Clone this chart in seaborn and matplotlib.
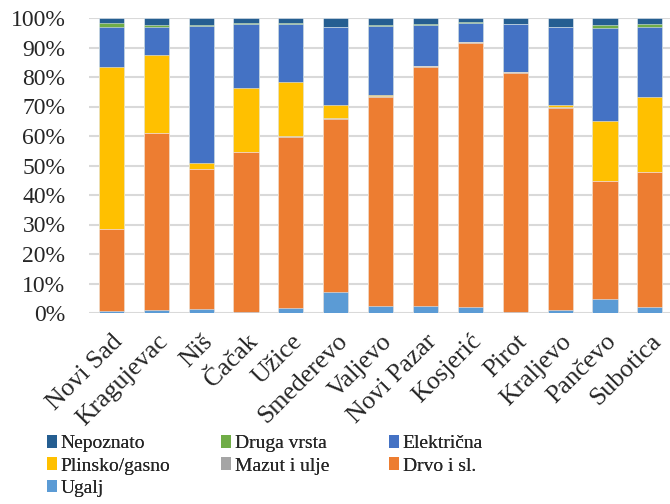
import numpy as np
import pandas as pd
import matplotlib
matplotlib.use("Agg")
import matplotlib.pyplot as plt
import matplotlib.transforms as mtransforms
import seaborn as sns
from matplotlib.patches import Patch

cities = ["Novi Sad", "Kragujevac", "Niš", "Čačak", "Užice", "Smederevo", "Valjevo",
          "Novi Pazar", "Kosjerić", "Pirot", "Kraljevo", "Pančevo", "Subotica"]

# shares in percent, stacked from bottom to top
ugalj       = [0.6, 0.9, 1.2, 0.4, 1.6, 7.1, 2.4, 2.4, 1.9, 0.2, 0.9, 4.6, 2.1]
drvo        = [27.8, 60.0, 47.5, 54.1, 58.2, 58.7, 70.9, 81.1, 89.7, 81.3, 68.7, 40.2, 45.6]
mazut       = [0.1, 0.1, 0.2, 0.1, 0.2, 0.2, 0.3, 0.2, 0.1, 0.3, 0.2, 0.1, 0.2]
plinsko     = [55.0, 26.5, 2.0, 21.6, 18.2, 4.5, 0.3, 0.1, 0.3, 0.0, 0.7, 20.2, 25.4]
elektricna  = [13.6, 9.3, 46.4, 21.8, 19.8, 26.3, 23.4, 13.8, 6.4, 16.1, 26.3, 31.4, 23.8]
druga       = [1.1, 0.8, 0.3, 0.2, 0.2, 0.2, 0.2, 0.2, 0.2, 0.2, 0.3, 1.1, 0.9]
nepoznato   = [1.8, 2.4, 2.4, 1.8, 1.8, 3.0, 2.5, 2.2, 1.4, 1.9, 2.9, 2.4, 2.0]

series_names = ["Ugalj", "Drvo i sl.", "Mazut i ulje", "Plinsko/gasno",
                "Električna", "Druga vrsta", "Nepoznato"]
series_vals = [ugalj, drvo, mazut, plinsko, elektricna, druga, nepoznato]
colors = {"Ugalj": "#5B9BD5", "Drvo i sl.": "#ED7D31", "Mazut i ulje": "#A5A5A5",
          "Plinsko/gasno": "#FFC000", "Električna": "#4472C4",
          "Druga vrsta": "#70AD47", "Nepoznato": "#255E91"}

sns.set_style("white")
plt.rcParams["font.family"] = ["Liberation Serif", "DejaVu Serif"]

fig = plt.figure(figsize=(6.7, 5.04), dpi=100)
ax = fig.add_axes([89 / 670, 191 / 504, 581 / 670, 295 / 504])

cum = np.cumsum(np.array(series_vals), axis=0)
# draw from top layer down so lower layers overlay
for i in range(len(series_names) - 1, -1, -1):
    df = pd.DataFrame({"city": cities, "val": cum[i]})
    sns.barplot(data=df, x="city", y="val", order=cities, color=colors[series_names[i]],
                saturation=1, width=0.56, edgecolor=(1, 1, 1, 0.55), linewidth=0.6,
                ax=ax, zorder=3)

ax.set_ylim(0, 100)
ax.set_xlim(-0.5, 12.45)
ax.set_yticks(np.arange(0, 101, 10))
ax.set_yticklabels([f"{v}%" for v in range(0, 101, 10)], fontsize=17)
ax.yaxis.grid(True, color="#D9D9D9", linewidth=1.5, zorder=0)
ax.set_axisbelow(True)
for s in ax.spines.values():
    s.set_visible(False)
ax.tick_params(axis="both", length=0)
ax.tick_params(axis="y", pad=17)
ax.set_xlabel("")
ax.set_ylabel("")
ax.set_xticks(range(len(cities)))
ax.set_xticklabels(cities, rotation=45, ha="right", va="center", rotation_mode="anchor",
                   fontsize=18.5)
ax.tick_params(axis="x", pad=18)
shift = mtransforms.ScaledTranslation(8 / 100, 0, fig.dpi_scale_trans)
for lbl in ax.get_xticklabels():
    lbl.set_transform(lbl.get_transform() + shift)

handles = {n: Patch(facecolor=colors[n], edgecolor="none", label=n) for n in series_names}
columns = [(["Nepoznato", "Plinsko/gasno", "Ugalj"], 47),
           (["Druga vrsta", "Mazut i ulje"], 221),
           (["Električna", "Drvo i sl."], 389)]
for names, xpx in columns:
    leg = fig.legend(handles=[handles[n] for n in names], loc="upper left",
                     bbox_to_anchor=(xpx / 670, 1 - 435 / 504), ncol=1, frameon=False,
                     fontsize=14, handlelength=0.5, handleheight=0.62, handletextpad=0.2,
                     labelspacing=0.27, borderaxespad=0, borderpad=0)
    fig.add_artist(leg)

fig.savefig("out.png", dpi=100)
